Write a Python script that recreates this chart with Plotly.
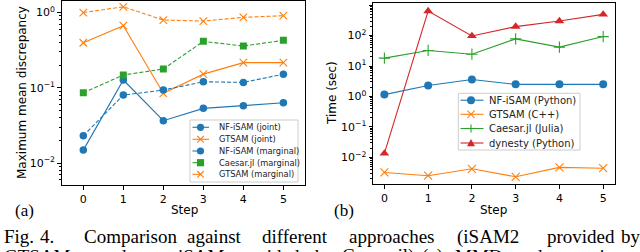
import plotly.graph_objects as go

# ---------------- data ----------------
steps = [0, 1, 2, 3, 4, 5]

# (a) Maximum mean discrepancy
mmd_labels = ["NF-iSAM (joint)", "GTSAM (joint)", "NF-iSAM (marginal)",
              "Caesar.jl (marginal)", "GTSAM (marginal)"]
nf_joint = [0.0149, 0.127, 0.0366, 0.0534, 0.058, 0.0635]
gtsam_joint = [0.397, 0.668, 0.0845, 0.152, 0.216, 0.216]
nf_marginal = [0.0231, 0.0802, 0.0935, 0.1205, 0.118, 0.152]
caesar_marginal = [0.086, 0.148, 0.178, 0.414, 0.359, 0.427]
gtsam_marginal = [1.0, 1.19, 0.795, 0.77, 0.863, 0.907]

# (b) Time (sec)
time_labels = ["NF-iSAM (Python)", "GTSAM (C++)", "Caesar.jl (Julia)", "dynesty (Python)"]
t_nf = [1.15, 2.3, 3.6, 2.5, 2.5, 2.5]
t_gtsam = [0.0032, 0.0025, 0.0042, 0.0023, 0.0047, 0.0044]
t_caesar = [18.2, 32.5, 24.5, 78, 41.7, 92.7]
t_dynesty = [0.0135, 637, 97.3, 197, 300, 496]

step_ticks = ["0", "1", "2", "3", "4", "5"]
mmd_tickvals = [0.01, 0.1, 1]
mmd_ticktext = ["10<sup>−2</sup>", "10<sup>−1</sup>", "10<sup>0</sup>"]
time_tickvals = [0.01, 0.1, 1, 10, 100, 1000]
time_ticktext = ["10<sup>−2</sup>", "10<sup>−1</sup>", "10<sup>0</sup>",
                 "10<sup>1</sup>", "10<sup>2</sup>", "10<sup>3</sup>"]

# ---------------- styling ----------------
C0, C1, C2, C3 = "#1f77b4", "#ff7f0e", "#2ca02c", "#d62728"
DASH = "4px,2px"
W, H = 640, 252
SANS = "DejaVu Sans"
SERIF = "Liberation Serif"


def px(x):
    return x / W


def py(y):
    return 1 - y / H


fig = go.Figure()


def add(x, y, color, dash, symbol, size, xa, ya, name):
    mk = dict(color=color, size=size, symbol=symbol)
    if symbol in ("x-thin", "cross-thin"):
        mk["line"] = dict(color=color, width=1.1)
    else:
        mk["line"] = dict(width=0)
    fig.add_trace(go.Scatter(x=x, y=y, mode="lines+markers", name=name,
                             line=dict(color=color, width=1.1, dash=dash),
                             marker=mk, xaxis=xa, yaxis=ya, showlegend=False))


add(steps, nf_joint, C0, "solid", "circle", 7.5, "x", "y", mmd_labels[0])
add(steps, gtsam_joint, C1, "solid", "x-thin", 7.5, "x", "y", mmd_labels[1])
add(steps, nf_marginal, C0, DASH, "circle", 7.5, "x", "y", mmd_labels[2])
add(steps, caesar_marginal, C2, DASH, "square", 7, "x", "y", mmd_labels[3])
add(steps, gtsam_marginal, C1, DASH, "x-thin", 7.5, "x", "y", mmd_labels[4])

add(steps, t_nf, C0, "solid", "circle", 8, "x2", "y2", time_labels[0])
add(steps, t_gtsam, C1, "solid", "x-thin", 8, "x2", "y2", time_labels[1])
add(steps, t_caesar, C2, "solid", "cross-thin", 8, "x2", "y2", time_labels[2])
add(steps, t_dynesty, C3, "solid", "triangle-up", 8.5, "x2", "y2", time_labels[3])

minor_vals = [m * 10 ** e for e in range(-4, 4) for m in range(2, 10)]

axis_common = dict(showline=True, linecolor="black", linewidth=1, mirror=True,
                   ticks="outside", ticklen=3.5, tickwidth=0.8, tickcolor="black",
                   showgrid=False, zeroline=False,
                   tickfont=dict(family=SANS, size=11, color="black"))

fig.update_layout(
    width=W, height=H, margin=dict(l=0, r=0, t=0, b=0),
    paper_bgcolor="white", plot_bgcolor="white",
    xaxis=dict(domain=[px(61.7), px(305)], range=[-0.54, 5.54],
               tickvals=steps, ticktext=step_ticks, anchor="y", **axis_common),
    yaxis=dict(domain=[py(185), py(1)], type="log", range=[-2.29, 0.153],
               tickvals=mmd_tickvals, ticktext=mmd_ticktext, anchor="x",
               minor=dict(tickvals=minor_vals, ticks="outside", ticklen=2,
                          tickwidth=0.7, tickcolor="black"),
               **axis_common),
    xaxis2=dict(domain=[px(373), px(615)], range=[-0.26, 5.27],
                tickvals=steps, ticktext=step_ticks, anchor="y2", **axis_common),
    yaxis2=dict(domain=[py(184), py(2.7)], type="log", range=[-2.875, 3.08],
                tickvals=time_tickvals, ticktext=time_ticktext, anchor="x2",
                minor=dict(tickvals=minor_vals, ticks="outside", ticklen=2,
                           tickwidth=0.7, tickcolor="black"),
                **axis_common),
)

annotations = []
shapes = []


def text(x, y, s, size, family=SANS, angle=0, xanchor="center", color="black"):
    annotations.append(dict(x=px(x), y=py(y), xref="paper", yref="paper", text=s,
                            showarrow=False, xanchor=xanchor, yanchor="middle",
                            textangle=angle, font=dict(family=family, size=size, color=color)))


# axis titles
text(184, 210, "Step", 12)
text(493, 210, "Step", 12)
text(22, 93, "Maximum mean discrepancy", 12, angle=-90)
text(332, 93, "Time (sec)", 12, angle=-90)
text(24, 210, "(a)", 17, family=SERIF)
text(344, 210, "(b)", 17, family=SERIF)

# caption (justified, word by word)
cap1 = [(2, "Fig."), (38, "4."), (82, "Comparison"), (185, "against"), (260, "different"),
        (347, "approaches"), (455, "(iSAM2"), (545, "provided"), (619, "by")]
cap2 = [(2, "GTSAM"), (97, "and"), (140, "mm-iSAM"), (230, "provided"), (313, "by"),
        (340, "Caesar.jl)."), (420, "(a)"), (453, "MMD"), (513, "and"), (567, "runtime")]
for x, w in cap1:
    text(x, 236.5, w, 19, family=SERIF, xanchor="left")
for x, w in cap2:
    text(x, 256, w, 19, family=SERIF, xanchor="left")


# ---------------- manual legends (compact, matplotlib-like) ----------------
def legend_box(x0, y0, x1, y1):
    shapes.append(dict(type="rect", xref="paper", yref="paper", x0=px(x0), x1=px(x1),
                       y0=py(y1), y1=py(y0), line=dict(color="#cccccc", width=1),
                       fillcolor="rgba(255,255,255,0.85)", layer="above"))


def key(cx, cy, lx0, lx1, color, dash, symbol, r):
    shapes.append(dict(type="line", xref="paper", yref="paper", x0=px(lx0), x1=px(lx1),
                       y0=py(cy), y1=py(cy), line=dict(color=color, width=1.1,
                                                       dash="dash" if dash != "solid" else "solid"),
                       layer="above"))
    if symbol == "circle":
        shapes.append(dict(type="circle", xref="paper", yref="paper", x0=px(cx - r), x1=px(cx + r),
                           y0=py(cy + r), y1=py(cy - r), fillcolor=color, line=dict(width=0),
                           layer="above"))
    elif symbol == "square":
        shapes.append(dict(type="rect", xref="paper", yref="paper", x0=px(cx - r), x1=px(cx + r),
                           y0=py(cy + r), y1=py(cy - r), fillcolor=color, line=dict(width=0),
                           layer="above"))
    elif symbol == "triangle":
        path = "M {} {} L {} {} L {} {} Z".format(px(cx - r), py(cy + r * 0.8), px(cx + r),
                                                  py(cy + r * 0.8), px(cx), py(cy - r))
        shapes.append(dict(type="path", xref="paper", yref="paper", path=path, fillcolor=color,
                           line=dict(width=0), layer="above"))
    elif symbol == "x":
        for s in (1, -1):
            shapes.append(dict(type="line", xref="paper", yref="paper", x0=px(cx - r), x1=px(cx + r),
                               y0=py(cy - s * r), y1=py(cy + s * r), line=dict(color=color, width=1.1),
                               layer="above"))
    elif symbol == "plus":
        shapes.append(dict(type="line", xref="paper", yref="paper", x0=px(cx - r), x1=px(cx + r),
                           y0=py(cy), y1=py(cy), line=dict(color=color, width=1.1), layer="above"))
        shapes.append(dict(type="line", xref="paper", yref="paper", x0=px(cx), x1=px(cx),
                           y0=py(cy - r), y1=py(cy + r), line=dict(color=color, width=1.1),
                           layer="above"))


# left legend
legend_box(190, 120, 298, 182)
left_rows = [127.3, 139.3, 151, 162.7, 174.3]
left_styles = [(C0, "solid", "circle"), (C1, "solid", "x"), (C0, "dash", "circle"),
               (C2, "dash", "square"), (C1, "dash", "x")]
for yy, (col, d, sym), lab in zip(left_rows, left_styles, mmd_labels):
    key(200.5, yy, 192.5, 209, col, d, sym, 3.6 if sym != "x" else 3.3)
    text(216.5, yy, lab, 8.3, xanchor="left", color="#222222")

# right legend
legend_box(458.3, 93.3, 580, 150)
right_rows = [100.2, 114.3, 128.5, 143]
right_styles = [(C0, "solid", "circle"), (C1, "solid", "x"), (C2, "solid", "plus"),
                (C3, "solid", "triangle")]
for yy, (col, d, sym), lab in zip(right_rows, right_styles, time_labels):
    key(471, yy, 460.5, 483.5, col, d, sym, 4 if sym != "x" else 3.6)
    text(486.5, yy, lab, 10, xanchor="left", color="#222222")

fig.update_layout(annotations=annotations, shapes=shapes)
fig.write_html("out.html", config={"displayModeBar": False},
               post_script="document.body.style.margin='0';document.body.style.overflow='hidden';")
